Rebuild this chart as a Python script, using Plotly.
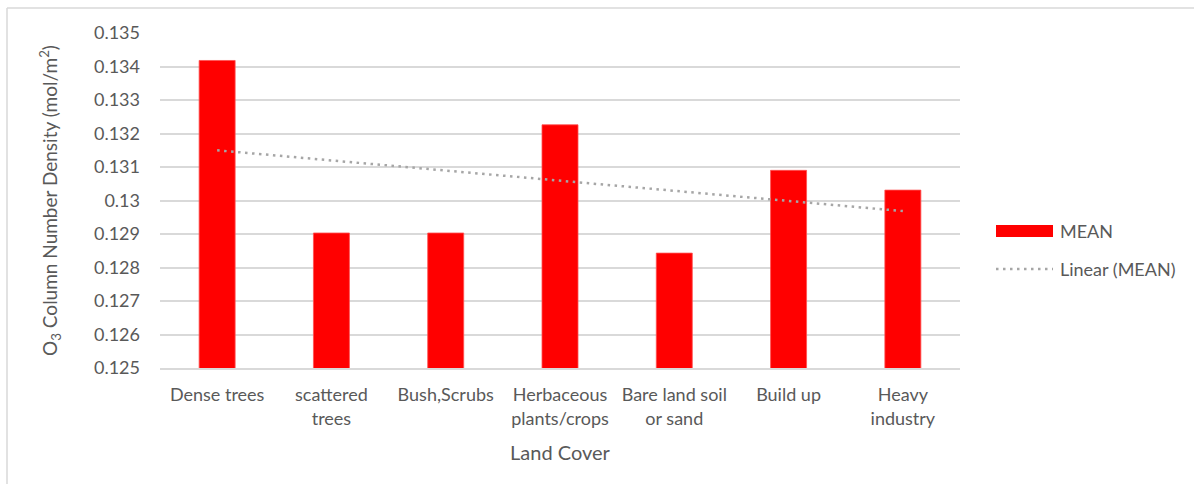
import numpy as np
import plotly.graph_objects as go

# Land cover classes and mean O3 column number density (mol/m2)
categories = [
    "Dense trees",
    "scattered<br>trees",
    "Bush,Scrubs",
    "Herbaceous<br>plants/crops",
    "Bare land soil<br>or sand",
    "Build up",
    "Heavy<br>industry",
]
mean_values = [0.13418, 0.12903, 0.12903, 0.13226, 0.12843, 0.13090, 0.13031]

y_tick_values = [0.125, 0.126, 0.127, 0.128, 0.129, 0.130, 0.131, 0.132, 0.133, 0.134, 0.135]
y_tick_labels = ["0.125", "0.126", "0.127", "0.128", "0.129", "0.13",
                 "0.131", "0.132", "0.133", "0.134", "0.135"]

# Least-squares linear trend over category index (1..n)
idx = np.arange(1, len(mean_values) + 1)
slope, intercept = np.polyfit(idx, mean_values, 1)
trend = slope * idx + intercept

FONT = "Lato"
TEXT = "#595959"
W, H = 1194, 484
L, R, T, B = 160, 234, 33, 116
PW, PH = W - L - R, H - T - B


def px_x(p):
    return (p - L) / PW


def px_y(p):
    return (H - B - p) / PH


fig = go.Figure()
fig.add_trace(go.Bar(
    x=categories, y=mean_values, name="MEAN",
    marker=dict(color="#FF0000", line=dict(color="#FF5050", width=0.8)),
    showlegend=False,
))
fig.add_trace(go.Scatter(
    x=categories, y=trend, name="Linear (MEAN)", mode="lines",
    line=dict(color="#A6A6A6", width=2.5, dash="2.5px,4.5px"),
    showlegend=False,
))

shapes = [
    # chart frame (top and left edges)
    dict(type="line", xref="paper", yref="paper",
         x0=px_x(7), x1=px_x(W + 5), y0=px_y(8), y1=px_y(8),
         line=dict(color="#D9D9D9", width=1.5)),
    dict(type="line", xref="paper", yref="paper",
         x0=px_x(7), x1=px_x(7), y0=px_y(8), y1=px_y(H + 5),
         line=dict(color="#D9D9D9", width=1.5)),
    # legend swatches
    dict(type="rect", xref="paper", yref="paper",
         x0=px_x(996), x1=px_x(1053), y0=px_y(225), y1=px_y(237),
         fillcolor="#FF0000", line=dict(width=0)),
    dict(type="line", xref="paper", yref="paper",
         x0=px_x(996), x1=px_x(1053), y0=px_y(269), y1=px_y(269),
         line=dict(color="#A6A6A6", width=2.5, dash="2.5px,4.5px")),
]

annotations = [
    dict(text="MEAN", xref="paper", yref="paper", x=px_x(1058), y=px_y(231),
         xanchor="left", yanchor="middle", showarrow=False,
         font=dict(family=FONT, size=18, color=TEXT)),
    dict(text="Linear (MEAN)", xref="paper", yref="paper", x=px_x(1058), y=px_y(269),
         xanchor="left", yanchor="middle", showarrow=False,
         font=dict(family=FONT, size=18, color=TEXT)),
]

fig.update_layout(
    width=W, height=H,
    margin=dict(l=L, r=R, t=T, b=B, pad=0),
    paper_bgcolor="white", plot_bgcolor="white",
    font=dict(family=FONT, size=18, color=TEXT),
    bargap=0.685,
    shapes=shapes,
    annotations=annotations,
    xaxis=dict(
        type="category",
        showgrid=False,
        showline=True, linecolor="#D9D9D9", linewidth=1.5,
        ticks="", ticklabelstandoff=10,
        tickfont=dict(family=FONT, size=18, color=TEXT),
        title=dict(text="Land Cover", font=dict(family=FONT, size=20, color=TEXT), standoff=18),
    ),
    yaxis=dict(
        range=[0.125, 0.135],
        tickvals=y_tick_values, ticktext=y_tick_labels,
        showgrid=True, gridcolor="#D9D9D9", gridwidth=1.5,
        zeroline=False, showline=False, ticks="",
        ticklabelstandoff=19,
        tickfont=dict(family=FONT, size=18, color=TEXT),
        title=dict(text="O<sub>3</sub> Column Number Density (mol/m<sup>2</sup>)",
                   font=dict(family=FONT, size=19, color=TEXT), standoff=31),
    ),
)

fig.write_html("out.html")
